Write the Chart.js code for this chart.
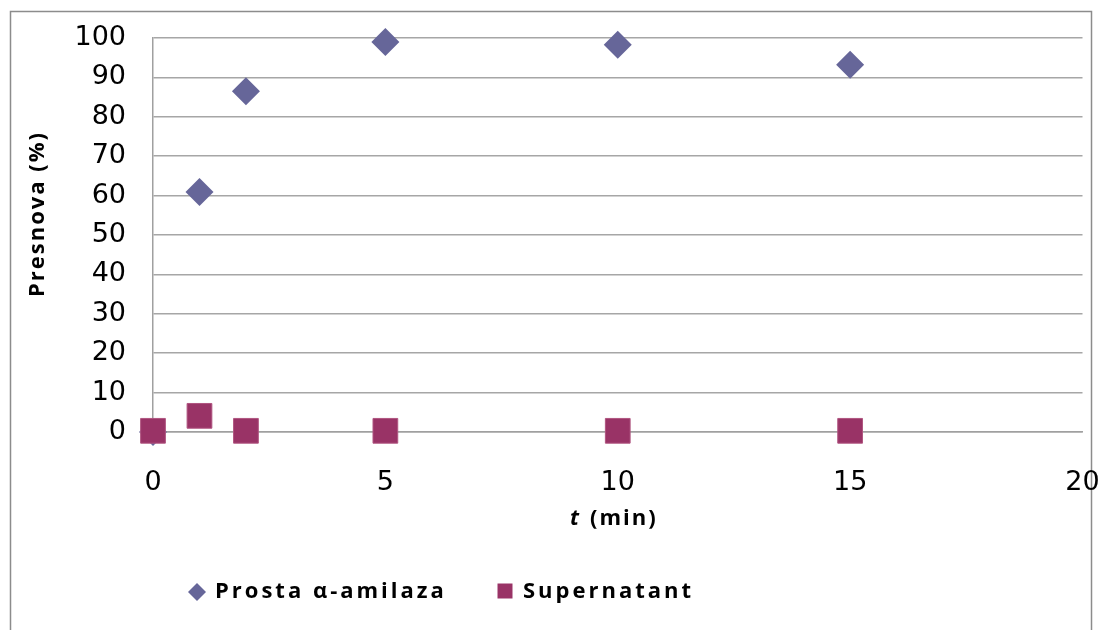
<!DOCTYPE html>
<html>
<head>
<meta charset="utf-8">
<script src="https://cdn.jsdelivr.net/npm/chart.js@4/dist/chart.umd.min.js"></script>
<style>
  html, body { margin: 0; padding: 0; background: #fff; }
  #wrap { width: 1101px; height: 630px; }
</style>
</head>
<body>
<div id="wrap"><canvas id="chart"></canvas></div>
<script>
// time points (min)
const timePoints = [0, 1, 2, 5, 10, 15];
// conversion (%)
const amilaza = [0, 60.9, 86.5, 99.0, 98.3, 93.2];
const supernatant = [0.3, 4.1, 0.3, 0.3, 0.3, 0.3];

const xTicks = [0, 5, 10, 15, 20];
const yMax = 100;

function toPoints(xs, ys) {
    return xs.map((x, i) => ({ x: x, y: ys[i] }));
}

// frame, axis titles and legend
const decorPlugin = {
    id: 'decor',
    beforeDraw(chart) {
        const ctx = chart.ctx;
        ctx.save();
        ctx.strokeStyle = '#8c8c8c';
        ctx.lineWidth = 1.5;
        ctx.strokeRect(10.5, 11.5, 1081, 700);
        ctx.restore();
    },
    afterDraw(chart) {
        const ctx = chart.ctx;
        ctx.save();
        ctx.fillStyle = '#000';
        ctx.textBaseline = 'middle';

        // y title
        ctx.save();
        ctx.translate(38, 214);
        ctx.rotate(-Math.PI / 2);
        ctx.textAlign = 'center';
        ctx.font = 'bold 22px "Open Sans"';
        ctx.letterSpacing = '2px';
        ctx.fillText('Presnova (%)', 0, 0);
        ctx.restore();

        // x title: italic t, then (min)
        ctx.textAlign = 'left';
        ctx.letterSpacing = '2px';
        ctx.font = 'italic bold 22px "Open Sans"';
        ctx.fillText('t', 570, 519);
        ctx.font = 'bold 22px "Open Sans"';
        ctx.fillText('(min)', 590, 519);

        // legend
        const items = chart.data.datasets;
        const xs = [197, 505];
        ctx.font = 'bold 22px "Open Sans"';
        ctx.letterSpacing = '3px';
        items.forEach((ds, i) => {
            const cx = xs[i], cy = 592;
            ctx.fillStyle = ds.backgroundColor;
            ctx.beginPath();
            if (ds.pointStyle === 'rectRot') {
                ctx.moveTo(cx, cy - 9);
                ctx.lineTo(cx + 9, cy);
                ctx.lineTo(cx, cy + 9);
                ctx.lineTo(cx - 9, cy);
            } else {
                ctx.rect(cx - 7.5, cy - 8.5, 15, 15);
            }
            ctx.closePath();
            ctx.fill();
            ctx.fillStyle = '#000';
            ctx.fillText(ds.label, cx + 18, cy);
        });
        ctx.restore();
    }
};

new Chart(document.getElementById('chart'), {
    type: 'scatter',
    data: {
        datasets: [{
            label: 'Prosta α-amilaza',
            data: toPoints(timePoints, amilaza),
            pointStyle: 'rectRot',
            pointRadius: 14,
            pointHoverRadius: 14,
            backgroundColor: '#666699',
            borderColor: '#666699',
            borderWidth: 0,
            clip: false,
            order: 2
        }, {
            label: 'Supernatant',
            data: toPoints(timePoints, supernatant),
            pointStyle: 'rect',
            pointRadius: 17.5,
            pointHoverRadius: 17.5,
            backgroundColor: '#993366',
            borderColor: '#b05580',
            borderWidth: 1,
            clip: false,
            order: 1
        }]
    },
    options: {
        responsive: true,
        maintainAspectRatio: false,
        animation: false,
        layout: { padding: { left: 0, top: 38, right: 18, bottom: 0 } },
        plugins: {
            legend: { display: false },
            tooltip: { enabled: false }
        },
        scales: {
            x: {
                type: 'linear',
                min: 0,
                max: 20,
                afterBuildTicks(scale) {
                    scale.ticks = xTicks.map(v => ({ value: v }));
                },
                afterFit(scale) {
                    scale.height = 630 - 432;
                    scale.paddingLeft = 0;
                    scale.paddingRight = 0;
                },
                grid: { display: false, drawTicks: false },
                border: { display: true, color: '#a0a0a0', width: 1.5 },
                ticks: {
                    padding: 35,
                    color: '#000',
                    font: { family: '"DejaVu Sans"', size: 27 },
                    maxRotation: 0
                }
            },
            y: {
                min: 0,
                max: yMax,
                afterFit(scale) {
                    scale.width = 153;
                    scale.paddingTop = 0;
                    scale.paddingBottom = 0;
                },
                grid: { color: '#a6a6a6', lineWidth: 1.5, drawTicks: false },
                border: { display: true, color: '#a0a0a0', width: 1.5 },
                ticks: {
                    stepSize: 10,
                    padding: 27,
                    color: '#000',
                    font: { family: '"DejaVu Sans"', size: 27 }
                }
            }
        }
    },
    plugins: [decorPlugin]
});
</script>
</body>
</html>
